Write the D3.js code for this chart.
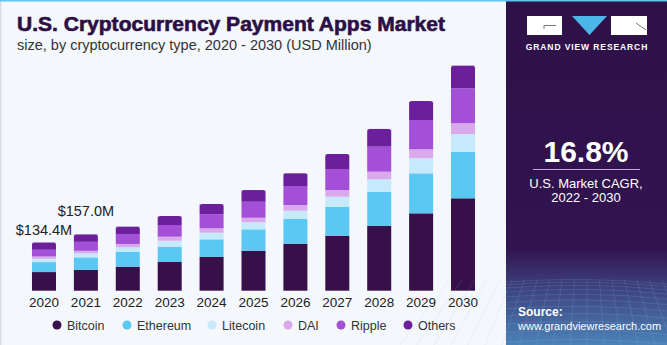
<!DOCTYPE html>
<html>
<head>
<meta charset="utf-8">
<script src="https://cdn.jsdelivr.net/npm/d3@7"></script>
<style>
  html, body { margin: 0; padding: 0; background: #f4f7fc; }
  svg { display: block; font-family: "Liberation Sans", Arial, sans-serif; }
</style>
</head>
<body>
<svg id="chart" width="667" height="345"></svg>
<script>
// market size by cryptocurrency type, USD million
const years = ["2020","2021","2022","2023","2024","2025","2026","2027","2028","2029","2030"];
const types = ["Bitcoin","Ethereum","Litecoin","DAI","Ripple","Others"];
const bitcoin  = [52.0, 58.5, 67.0, 80.1, 94.9, 111.6, 131.1, 152.6, 181.4, 215.9, 257.8];
const ethereum = [27.9, 34.5, 41.9, 42.7, 48.5, 59.7, 68.9, 81.7, 94.9, 111.6, 130.0];
const litecoin = [9.2, 11.1, 12.3, 16.7, 18.4, 19.5, 23.2, 27.9, 34.6, 41.9, 49.4];
const dai      = [6.4, 7.2, 9.2, 11.2, 12.3, 12.8, 15.9, 18.7, 21.2, 25.1, 29.9];
const ripple   = [18.7, 25.1, 27.9, 32.6, 39.1, 44.6, 53.0, 58.6, 69.8, 81.7, 97.7];
const others   = [20.2, 20.6, 20.4, 25.1, 28.7, 32.6, 35.4, 41.9, 49.4, 53.0, 63.1];
// totals printed above the first two bars
const labelYears = ["2020", "2021"];
const labelText  = ["$134.4M", "$157.0M"];

const colors = ["#37104a", "#5bc8f4", "#c6eafb", "#d9a9ec", "#a34fd7", "#6b1f9b"];

const rows = years.map((yr, i) => ({
  year: yr,
  Bitcoin: bitcoin[i], Ethereum: ethereum[i], Litecoin: litecoin[i],
  DAI: dai[i], Ripple: ripple[i], Others: others[i]
}));

const svg = d3.select("#chart");
const W = 667, H = 345;
const panelX = 506;

// backgrounds
svg.append("rect").attr("width", W).attr("height", H).attr("fill", "#f4f7fc");
svg.append("rect").attr("x", 0).attr("y", 0).attr("width", 1.5).attr("height", H).attr("fill", "#d9dde4");

// title block
svg.append("text")
  .attr("x", 17).attr("y", 31)
  .attr("font-size", 20).attr("font-weight", "bold")
  .attr("fill", "#2c0f42").attr("stroke", "#2c0f42").attr("stroke-width", 0.6)
  .attr("textLength", 428).attr("lengthAdjust", "spacingAndGlyphs")
  .text("U.S. Cryptocurrency Payment Apps Market");
svg.append("text")
  .attr("x", 17).attr("y", 50)
  .attr("font-size", 14.5).attr("fill", "#333")
  .text("size, by cryptocurrency type, 2020 - 2030 (USD Million)");

// scales
const x = d3.scaleBand()
  .domain(years)
  .range([23.6, 483.4])
  .paddingInner(0.427)
  .paddingOuter(0.2);

const y = d3.scaleLinear()
  .domain([0, 700])
  .range([290.7, 290.7 - 700 / 2.79]);

const stack = d3.stack().keys(types);
const series = stack(rows);

const g = svg.append("g");
series.forEach((s, k) => {
  g.selectAll(".seg" + k)
    .data(s)
    .enter().append("rect")
    .attr("class", "seg" + k)
    .attr("x", d => x(d.data.year))
    .attr("width", x.bandwidth())
    .attr("y", d => y(d[1]))
    .attr("height", d => y(d[0]) - y(d[1]))
    .attr("fill", colors[k]);
});

// round off the top corners of each stack
g.selectAll(".corner")
  .data(series[series.length - 1])
  .enter().append("path")
  .attr("d", d => {
    const x0 = x(d.data.year), w = x.bandwidth(), t = y(d[1]), r = 2.5;
    return `M${x0},${t} L${x0 + r},${t} Q${x0},${t} ${x0},${t + r}Z M${x0 + w},${t} L${x0 + w - r},${t} Q${x0 + w},${t} ${x0 + w},${t + r}Z`;
  })
  .attr("fill", "#f4f7fc");

// x axis labels
const xAxis = svg.append("g")
  .attr("transform", "translate(0,291)")
  .call(d3.axisBottom(x).tickSize(0).tickPadding(6));
xAxis.select(".domain").remove();
xAxis.selectAll("text")
  .attr("font-size", 13.5).attr("fill", "#222")
  .attr("font-family", "Liberation Sans, Arial, sans-serif");

// value labels
const labelLift = [8, 18];
labelYears.forEach((yr, i) => {
  const row = rows.find(r => r.year === yr);
  const total = types.reduce((s, t) => s + row[t], 0);
  svg.append("text")
    .attr("x", x(yr) + x.bandwidth() / 2)
    .attr("y", y(total) - labelLift[i])
    .attr("text-anchor", "middle")
    .attr("font-size", 14.5).attr("fill", "#222")
    .text(labelText[i]);
});

// legend
const legendX = [57, 127, 212, 288, 341, 408];
const legend = svg.append("g").attr("transform", "translate(0,325)");
types.forEach((t, i) => {
  legend.append("circle")
    .attr("cx", legendX[i]).attr("cy", 0).attr("r", 4.5)
    .attr("fill", colors[i]);
  legend.append("text")
    .attr("x", legendX[i] + 10).attr("y", 4.5)
    .attr("font-size", 12.5).attr("fill", "#333")
    .text(t);
});

// right-hand panel
const defs = svg.append("defs");
const grad = defs.append("linearGradient")
  .attr("id", "panelGrad").attr("x1", 0).attr("y1", 0).attr("x2", 0).attr("y2", 1);
grad.append("stop").attr("offset", "0").attr("stop-color", "#2e1147");
grad.append("stop").attr("offset", "0.72").attr("stop-color", "#311450");
grad.append("stop").attr("offset", "0.82").attr("stop-color", "#3b3c78");
grad.append("stop").attr("offset", "1").attr("stop-color", "#4b82b8");

svg.append("rect")
  .attr("x", panelX).attr("y", 0)
  .attr("width", W - panelX).attr("height", H)
  .attr("fill", "url(#panelGrad)");

// faint mesh in the lower part of the panel
const mesh = svg.append("g").attr("stroke", "#9fc3ea").attr("stroke-opacity", 0.22).attr("stroke-width", 0.7).attr("fill", "none");
d3.range(0, 14).forEach(i => {
  const yy = 282 + i * i * 0.38 + i * 2.2;
  mesh.append("path").attr("d", `M${panelX},${yy} Q${panelX + 80},${yy - 6} ${W},${yy + 2}`);
});
d3.range(0, 22).forEach(i => {
  const xx = panelX - 40 + i * 11;
  mesh.append("line").attr("x1", xx + (i - 11) * 1.5).attr("y1", 280).attr("x2", xx + (i - 11) * 6).attr("y2", H);
});

// logo
const logo = svg.append("g");
logo.append("rect").attr("x", 527).attr("y", 16).attr("width", 35).attr("height", 19).attr("fill", "#fff");
logo.append("path").attr("d", "M572,16 L607,16 L589.5,35 Z").attr("fill", "#4db6e8");
logo.append("rect").attr("x", 611).attr("y", 16).attr("width", 36).attr("height", 19).attr("fill", "#fff");
logo.append("path").attr("d", "M544,25.5 L556,25.5 M544,25.5 L544,29").attr("stroke", "#555").attr("stroke-width", 0.8);
logo.append("path").attr("d", "M636,23 L646,30").attr("stroke", "#555").attr("stroke-width", 0.8);
logo.append("text")
  .attr("x", 587).attr("y", 50)
  .attr("text-anchor", "middle")
  .attr("font-size", 8.5).attr("font-weight", "bold").attr("fill", "#fff")
  .attr("letter-spacing", 0.9)
  .text("GRAND VIEW RESEARCH");

// CAGR figure
svg.append("text")
  .attr("x", 586).attr("y", 162)
  .attr("text-anchor", "middle")
  .attr("font-size", 30).attr("font-weight", "bold").attr("fill", "#fff")
  .text("16.8%");
svg.append("line")
  .attr("x1", 533).attr("x2", 640).attr("y1", 169.5).attr("y2", 169.5)
  .attr("stroke", "#c9a4e0").attr("stroke-width", 1);
svg.append("text")
  .attr("x", 586).attr("y", 188)
  .attr("text-anchor", "middle")
  .attr("font-size", 13).attr("fill", "#fff")
  .text("U.S. Market CAGR,");
svg.append("text")
  .attr("x", 586).attr("y", 202)
  .attr("text-anchor", "middle")
  .attr("font-size", 13).attr("fill", "#fff")
  .text("2022 - 2030");

// source
svg.append("text")
  .attr("x", 518).attr("y", 316)
  .attr("font-size", 12).attr("font-weight", "bold").attr("fill", "#fff")
  .text("Source:");
svg.append("text")
  .attr("x", 518).attr("y", 330)
  .attr("font-size", 11)
  .attr("fill", "#fff")
  .text("www.grandviewresearch.com");

// thin accent along the top edge
svg.append("rect").attr("x", 0).attr("y", 0).attr("width", W).attr("height", 1.5).attr("fill", "#5ec6f0");
</script>
</body>
</html>
